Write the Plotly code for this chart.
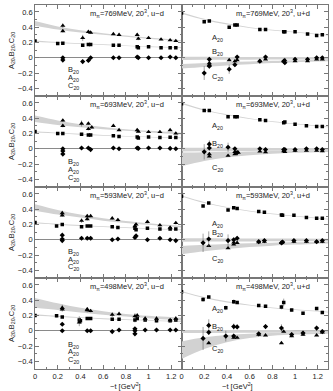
import plotly.graph_objects as go
from plotly.subplots import make_subplots

# ---- data ----
# grid for the fit bands
t_band = [0, 0.2, 0.4, 0.6, 0.8, 1.0, 1.29]

# m_pi = 769 MeV
tA_769 = [0, 0.20, 0.245, 0.42, 0.47, 0.49, 0.69, 0.74, 0.90, 0.91, 1.00, 1.11, 1.19, 1.24]
A_umd_769 = [0.22, 0.185, 0.19, 0.165, 0.175, 0.175, 0.165, 0.165, 0.145, 0.13, 0.145, 0.13, 0.13, 0.13]
A_upd_769 = [0.585, 0.47, 0.48, 0.40, 0.43, 0.43, 0.37, 0.37, 0.34, 0.34, 0.34, 0.31, 0.29, 0.30]
tB_769 = [0.245, 0.245, 0.42, 0.47, 0.49, 0.69, 0.74, 0.90, 0.91, 1.00, 1.11, 1.19, 1.24]
B_umd_769 = [0.42, 0.35, 0.26, 0.34, 0.33, 0.31, 0.30, 0.30, 0.25, 0.26, 0.24, 0.23, 0.22]
eB_umd_769 = [0.03, 0.02, 0.04, 0.02, 0.02, 0.01, 0.01, 0.02, 0.02, 0.01, 0.01, 0.01, 0.01]
B_upd_769 = [-0.07, -0.09, -0.03, -0.045, -0.03, -0.045, -0.02, -0.045, -0.03, -0.045, -0.045, -0.02, -0.02]
tC_769 = [0.20, 0.245, 0.245, 0.42, 0.47, 0.49, 0.69, 0.74, 0.90, 0.91, 1.00, 1.11, 1.19, 1.24]
C_umd_769 = [None, 0.0, -0.03, -0.05, -0.035, 0.0, 0.0, 0.0, 0.01, 0.0, 0.0, 0.0, 0.01, 0.0]
C_upd_769 = [-0.20, -0.02, -0.11, -0.15, -0.09, 0.01, -0.045, 0.01, -0.045, -0.065, -0.02, -0.02, 0.0, 0.0]
eC_upd_769 = [0.09, 0.03, 0.03, 0.06, 0.03, 0.02, 0.02, 0.02, 0.02, 0.02, 0.02, 0.02, 0.02, 0.02]

# m_pi = 693 MeV
tA_693 = [0, 0.20, 0.245, 0.41, 0.47, 0.49, 0.69, 0.74, 0.90, 0.91, 1.00, 1.10, 1.19, 1.24]
A_umd_693 = [0.227, 0.20, 0.20, 0.19, 0.18, 0.18, 0.17, 0.16, 0.155, 0.14, 0.155, 0.147, 0.15, 0.147]
A_upd_693 = [0.59, 0.50, 0.50, 0.42, 0.42, 0.42, 0.38, 0.37, 0.34, 0.35, 0.32, 0.30, 0.29, 0.29]
tB_693 = [0.245, 0.245, 0.41, 0.47, 0.47, 0.50, 0.69, 0.74, 0.90, 0.91, 1.00, 1.10, 1.19, 1.24]
B_umd_693 = [0.37, 0.30, 0.33, 0.33, 0.26, 0.28, 0.30, 0.245, 0.245, 0.225, 0.22, 0.22, 0.245, 0.20]
eB_umd_693 = [0.02, 0.02, 0.04, 0.02, 0.02, 0.02, 0.01, 0.01, 0.02, 0.01, 0.01, 0.01, 0.01, 0.01]
B_upd_693 = [-0.10, -0.07, -0.09, -0.04, -0.07, -0.05, -0.035, -0.045, -0.03, -0.04, -0.025, -0.025, -0.025, -0.03]
tC_693 = [0.20, 0.245, 0.245, 0.245, 0.41, 0.47, 0.49, 0.69, 0.74, 0.90, 0.91, 1.00, 1.10, 1.19, 1.24]
C_umd_693 = [None, 0.0, -0.03, -0.07, 0.01, 0.01, -0.01, 0.01, 0.0, 0.01, 0.005, 0.01, 0.01, 0.005, 0.0]
C_upd_693 = [-0.04, 0.06, 0.01, None, 0.02, 0.0, -0.05, 0.0, -0.01, -0.01, -0.01, -0.01, 0.0, 0.0, -0.01]
eC_upd_693 = [0.10, 0.05, 0.03, 0.0, 0.06, 0.02, 0.03, 0.02, 0.02, 0.02, 0.02, 0.02, 0.02, 0.02, 0.02]

# m_pi = 593 MeV
tA_593 = [0, 0.19, 0.24, 0.41, 0.46, 0.49, 0.68, 0.73, 0.88, 0.89, 0.99, 1.10, 1.19, 1.24]
A_umd_593 = [0.226, 0.18, 0.20, 0.17, 0.18, 0.18, 0.17, 0.16, 0.15, 0.13, 0.15, 0.14, 0.14, 0.14]
A_upd_593 = [0.57, 0.44, 0.48, 0.39, 0.42, 0.41, 0.37, 0.36, 0.325, 0.32, 0.32, 0.29, 0.28, 0.28]
tB_593 = [0.24, 0.24, 0.41, 0.46, 0.46, 0.49, 0.68, 0.73, 0.88, 0.89, 0.99, 1.10, 1.19, 1.24]
B_umd_593 = [0.35, 0.32, 0.25, 0.31, 0.27, 0.31, 0.28, 0.26, 0.18, 0.20, 0.235, 0.19, 0.16, 0.22]
eB_umd_593 = [0.03, 0.02, 0.03, 0.02, 0.02, 0.02, 0.02, 0.02, 0.02, 0.02, 0.02, 0.02, 0.02, 0.02]
B_upd_593 = [-0.08, None, -0.11, -0.06, -0.035, -0.04, -0.03, -0.025, -0.04, -0.03, -0.025, -0.025, -0.025, -0.025]
tC_593 = [0.19, 0.24, 0.24, 0.24, 0.41, 0.46, 0.49, 0.68, 0.73, 0.88, 0.89, 0.99, 1.10, 1.19, 1.24]
C_umd_593 = [None, 0.06, 0.01, -0.01, 0.02, 0.02, 0.02, 0.0, 0.01, 0.03, 0.05, 0.0, 0.02, 0.0, -0.01]
C_upd_593 = [-0.04, 0.01, None, None, -0.01, 0.0, 0.02, -0.025, -0.01, -0.04, -0.03, -0.01, -0.01, -0.025, -0.01]
eC_upd_593 = [0.12, 0.10, 0.0, 0.0, 0.08, 0.03, 0.03, 0.02, 0.02, 0.02, 0.02, 0.02, 0.02, 0.02, 0.02]

# m_pi = 498 MeV
tA_498 = [0, 0.19, 0.24, 0.39, 0.40, 0.46, 0.49, 0.68, 0.74, 0.88, 0.90, 0.97, 1.07, 1.19, 1.24]
A_umd_498 = [0.20, 0.195, 0.18, 0.14, 0.13, 0.16, 0.16, 0.15, 0.15, 0.14, 0.16, 0.14, 0.13, 0.13, 0.14]
eA_umd_498 = [0.01, 0.02, 0.01, 0.05, 0.04, 0.02, 0.01, 0.01, 0.01, 0.03, 0.02, 0.02, 0.02, 0.02, 0.02]
A_upd_498 = [0.51, 0.41, 0.44, 0.30, None, 0.38, 0.37, 0.33, 0.32, 0.31, 0.37, 0.27, 0.23, 0.29, 0.24]
eA_upd_498 = [0.01, 0.03, 0.01, 0.03, 0.0, 0.03, 0.02, 0.02, 0.02, 0.03, 0.05, 0.02, 0.02, 0.02, 0.02]
tB_498 = [0.24, 0.24, 0.39, 0.46, 0.46, 0.49, 0.68, 0.74, 0.88, 0.90, 0.97, 1.07, 1.19, 1.24]
B_umd_498 = [0.30, 0.28, 0.11, 0.28, 0.27, 0.26, 0.21, 0.22, 0.19, 0.20, 0.16, 0.16, 0.14, 0.16]
eB_umd_498 = [0.04, 0.03, 0.05, 0.03, 0.03, 0.02, 0.03, 0.03, 0.04, 0.03, 0.03, 0.03, 0.02, 0.03]
B_upd_498 = [-0.16, None, None, -0.09, None, -0.09, -0.05, -0.06, -0.16, -0.01, -0.07, -0.05, -0.06, -0.02]
tC_498 = [0.19, 0.24, 0.24, 0.39, 0.46, 0.46, 0.49, 0.68, 0.74, 0.88, 0.88, 0.88, 0.97, 1.07, 1.19, 1.24]
C_umd_498 = [None, 0.085, 0.0, None, 0.0, None, 0.0, -0.01, 0.01, 0.025, 0.0, -0.04, 0.01, 0.01, 0.01, 0.01]
C_upd_498 = [-0.10, 0.07, -0.02, -0.07, 0.055, -0.07, 0.05, -0.04, 0.055, 0.035, None, None, -0.05, -0.03, 0.035, -0.01]
eC_upd_498 = [0.15, 0.08, 0.03, 0.07, 0.04, 0.03, 0.03, 0.03, 0.03, 0.05, 0.0, 0.0, 0.03, 0.03, 0.03, 0.03]

# fit bands (upper, lower)
bandB_umd_769 = ([0.48, 0.41, 0.36, 0.32, 0.29, 0.265, 0.23], [0.42, 0.37, 0.33, 0.30, 0.275, 0.25, 0.215])
bandA_umd_769 = ([0.227, 0.207, 0.191, 0.176, 0.162, 0.151, 0.138], [0.211, 0.194, 0.179, 0.166, 0.153, 0.142, 0.128])
bandA_upd_769 = ([0.595, 0.51, 0.45, 0.40, 0.365, 0.34, 0.30], [0.575, 0.495, 0.435, 0.39, 0.355, 0.33, 0.29])
bandB_upd_769 = ([0.012, 0.012, 0.011, 0.011, 0.01, 0.01, 0.01], [-0.028, -0.027, -0.026, -0.025, -0.024, -0.023, -0.022])
bandC_upd_769 = ([-0.08, -0.068, -0.057, -0.048, -0.04, -0.033, -0.022], [-0.14, -0.12, -0.10, -0.085, -0.07, -0.058, -0.045])

bandB_umd_693 = ([0.435, 0.37, 0.32, 0.285, 0.255, 0.235, 0.21], [0.35, 0.31, 0.28, 0.255, 0.235, 0.215, 0.185])
bandA_umd_693 = ([0.228, 0.21, 0.195, 0.18, 0.168, 0.158, 0.148], [0.212, 0.198, 0.184, 0.171, 0.16, 0.15, 0.138])
bandA_upd_693 = ([0.605, 0.515, 0.45, 0.40, 0.36, 0.33, 0.29], [0.585, 0.50, 0.437, 0.39, 0.35, 0.32, 0.28])
bandB_upd_693 = ([0.013, 0.013, 0.012, 0.012, 0.011, 0.011, 0.01], [-0.035, -0.033, -0.031, -0.029, -0.027, -0.025, -0.022])
bandC_upd_693 = ([-0.05, -0.045, -0.04, -0.035, -0.03, -0.027, -0.022], [-0.23, -0.16, -0.115, -0.085, -0.065, -0.052, -0.042])

bandB_umd_593 = ([0.465, 0.39, 0.33, 0.28, 0.245, 0.215, 0.18], [0.38, 0.33, 0.29, 0.25, 0.22, 0.195, 0.16])
bandA_umd_593 = ([0.23, 0.21, 0.193, 0.177, 0.163, 0.15, 0.135], [0.215, 0.197, 0.181, 0.167, 0.153, 0.141, 0.125])
bandA_upd_593 = ([0.58, 0.495, 0.43, 0.38, 0.345, 0.315, 0.275], [0.565, 0.48, 0.42, 0.37, 0.335, 0.305, 0.265])
bandB_upd_593 = ([0.02, 0.019, 0.018, 0.017, 0.016, 0.015, 0.014], [-0.025, -0.024, -0.023, -0.022, -0.021, -0.02, -0.019])
bandC_upd_593 = ([-0.08, -0.066, -0.055, -0.046, -0.039, -0.033, -0.025], [-0.19, -0.15, -0.12, -0.095, -0.077, -0.063, -0.048])

bandB_umd_498 = ([0.43, 0.36, 0.30, 0.255, 0.22, 0.195, 0.17], [0.30, 0.27, 0.24, 0.21, 0.185, 0.165, 0.135])
bandA_umd_498 = ([0.215, 0.195, 0.178, 0.163, 0.15, 0.14, 0.128], [0.20, 0.182, 0.166, 0.152, 0.14, 0.13, 0.115])
bandA_upd_498 = ([0.52, 0.44, 0.385, 0.34, 0.305, 0.28, 0.25], [0.505, 0.43, 0.37, 0.33, 0.295, 0.27, 0.24])
bandB_upd_498 = ([0.01, 0.01, 0.01, 0.009, 0.009, 0.008, 0.008], [-0.03, -0.029, -0.028, -0.027, -0.026, -0.025, -0.024])
bandC_upd_498 = ([-0.14, -0.085, -0.055, -0.04, -0.03, -0.025, -0.02], [-0.37, -0.24, -0.15, -0.095, -0.065, -0.05, -0.038])

masses = ["769", "693", "593", "498"]

# y positions of the in-panel series names, per row
lab_umd = [(-0.16, -0.26, -0.365), (-0.17, -0.275, -0.38), (-0.157, -0.26, -0.36), (-0.18, -0.28, -0.38)]
lab_upd = [(0.26, 0.08, -0.25), (0.30, 0.06, -0.25), (0.21, 0.085, -0.25), (0.29, 0.055, -0.24)]

D = globals()

fig = make_subplots(rows=4, cols=2, shared_xaxes=True, shared_yaxes=True,
                    horizontal_spacing=0, vertical_spacing=0)

BAND = "#d2d2d2"
FONT = "Liberation Sans"
TXT = dict(size=7.5, family=FONT, color="#222")


def add_band(band, row, col):
    hi, lo = band
    fig.add_trace(go.Scatter(x=t_band, y=hi, mode="lines", line=dict(width=0, shape="spline"),
                             hoverinfo="skip"), row=row, col=col)
    fig.add_trace(go.Scatter(x=t_band, y=lo, mode="lines", line=dict(width=0, shape="spline"),
                             fill="tonexty", fillcolor=BAND, hoverinfo="skip"), row=row, col=col)


def add_pts(t, y, err, symbol, size, row, col):
    e = err if err is not None else [0.006] * len(t)
    fig.add_trace(go.Scatter(
        x=t, y=y, mode="markers",
        marker=dict(symbol=symbol, size=size, color="black", line=dict(width=0)),
        error_y=dict(type="data", array=e, visible=True, width=0, thickness=0.6, color="#666"),
    ), row=row, col=col)


for r, m in enumerate(masses, start=1):
    # u-d (left)
    add_band(D["bandB_umd_" + m], r, 1)
    add_band(D["bandA_umd_" + m], r, 1)
    add_pts(D["tA_" + m], D["A_umd_" + m], D.get("eA_umd_" + m), "square", 3.5, r, 1)
    add_pts(D["tB_" + m], D["B_umd_" + m], D.get("eB_umd_" + m), "triangle-up", 4.5, r, 1)
    add_pts(D["tC_" + m], D["C_umd_" + m], None, "diamond", 4, r, 1)
    # u+d (right)
    add_band(D["bandA_upd_" + m], r, 2)
    add_band(D["bandB_upd_" + m], r, 2)
    add_band(D["bandC_upd_" + m], r, 2)
    add_pts(D["tA_" + m], D["A_upd_" + m], D.get("eA_upd_" + m), "square", 3.5, r, 2)
    add_pts(D["tB_" + m], D["B_upd_" + m], None, "triangle-up", 4.5, r, 2)
    add_pts(D["tC_" + m], D["C_upd_" + m], D.get("eC_upd_" + m), "diamond", 4, r, 2)

    for c, flav in ((1, "u\u2212d"), (2, "u+d")):
        fig.add_annotation(x=0.81, y=0.585, text="m<sub>\u03c0</sub>=" + m + "MeV, 20<sup>3</sup>, " + flav,
                           showarrow=False, font=TXT, row=r, col=c)

    yb, ya, yc = lab_umd[r - 1]
    for name, yy in (("B", yb), ("A", ya), ("C", yc)):
        fig.add_annotation(x=0.34, y=yy, text=name + "<sub>20</sub>", showarrow=False,
                           font=TXT, row=r, col=1)
    ya, yb, yc = lab_upd[r - 1]
    for name, yy in (("A", ya), ("B", yb), ("C", yc)):
        fig.add_annotation(x=0.32, y=yy, text=name + "<sub>20</sub>", showarrow=False,
                           font=TXT, row=r, col=2)

axis_style = dict(showline=True, linecolor="#777", linewidth=0.8, mirror="allticks",
                  ticks="inside", ticklen=4, tickcolor="#777", tickwidth=0.8, automargin=False,
                  showgrid=False, tickfont=TXT)

fig.update_xaxes(range=[0, 1.29], tickvals=[0, 0.2, 0.4, 0.6, 0.8, 1, 1.2], zeroline=False,
                 minor=dict(ticks="inside", dtick=0.1, ticklen=2, tickcolor="#777"), **axis_style)
fig.update_yaxes(range=[-0.5, 0.69], tickvals=[-0.4, -0.2, 0, 0.2, 0.4, 0.6],
                 zeroline=True, zerolinecolor="#8a8a8a", zerolinewidth=1,
                 minor=dict(ticks="inside", dtick=0.1, ticklen=2, tickcolor="#777"), **axis_style)

# x titles under each column
for xc in (0.25, 0.75):
    fig.add_annotation(x=xc, y=0, xref="paper", yref="paper", yanchor="top", yshift=-10,
                       text="\u2212t [GeV<sup>2</sup>]", showarrow=False, font=TXT)
for r in range(1, 5):
    fig.update_yaxes(title=dict(text="A<sub>20</sub>,B<sub>20</sub>,C<sub>20</sub>", font=TXT, standoff=2),
                     row=r, col=1)

fig.update_layout(width=333, height=391, showlegend=False,
                  margin=dict(l=35, r=5, t=5, b=22),
                  plot_bgcolor="white", paper_bgcolor="white")

# the page has no body margin, so the figure sits at the window's corner
fig.write_html("out.html", config={"displayModeBar": False},
               post_script="document.body.style.margin='0px';")
